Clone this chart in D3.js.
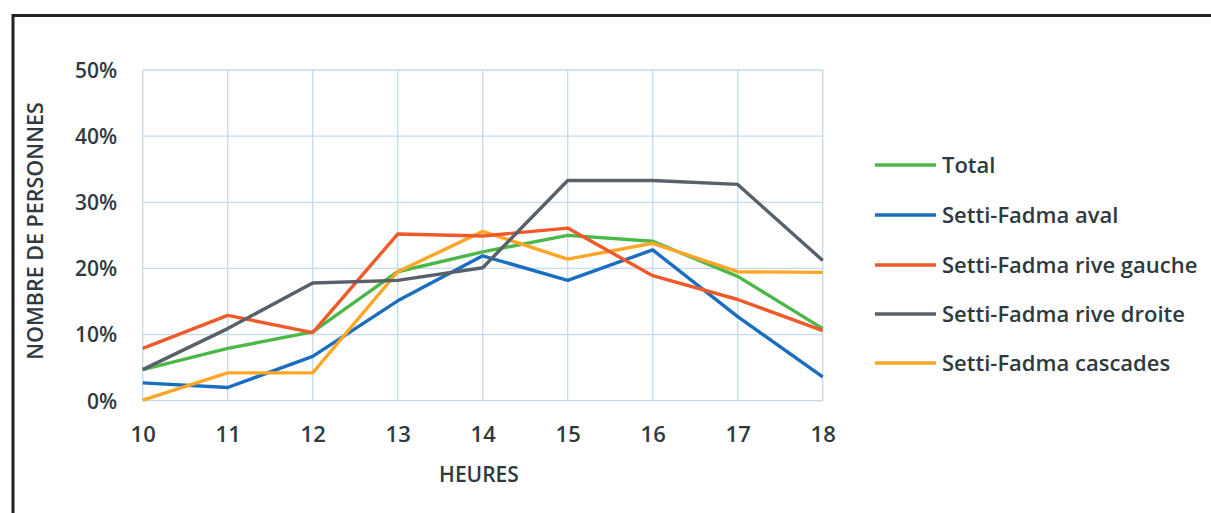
<!DOCTYPE html>
<html><head><meta charset="utf-8">
<script src="https://cdn.jsdelivr.net/npm/d3@7"></script>
<style>
html,body{margin:0;padding:0;background:#fff;}
svg{display:block;font-family:"Open Sans",Lato,sans-serif;}
svg text{font-family:"Open Sans",Lato,sans-serif;}
</style></head>
<body><svg id="c" width="1211" height="513"></svg>
<script>
const hours = [10, 11, 12, 13, 14, 15, 16, 17, 18];
const yTicks = [0, 10, 20, 30, 40, 50];
const seriesNames = ["Total", "Setti-Fadma aval", "Setti-Fadma rive gauche", "Setti-Fadma rive droite", "Setti-Fadma cascades"];
const seriesColors = ["#4cb848", "#1a6ec2", "#ef5a2b", "#58606a", "#ffa627"];
const total      = [4.7, 7.9, 10.4, 19.5, 22.5, 25.0, 24.1, 18.8, 10.9];
const aval       = [2.7, 2.0, 6.7, 15.1, 21.9, 18.2, 22.8, 12.7, 3.6];
const riveGauche = [7.9, 12.9, 10.3, 25.2, 24.9, 26.1, 18.9, 15.3, 10.6];
const riveDroite = [4.7, 10.9, 17.8, 18.2, 20.1, 33.3, 33.3, 32.7, 21.2];
const cascades   = [0.1, 4.2, 4.2, 19.5, 25.6, 21.4, 23.8, 19.5, 19.4];
const seriesValues = [total, aval, riveGauche, riveDroite, cascades];

const svg = d3.select("#c");
// frame
svg.append("path").attr("d","M13,1000V15.5H1211").attr("fill","none").attr("stroke","#222").attr("stroke-width",3);

const x = d3.scaleLinear().domain([10,18]).range([142.7,822.7]);
const y = d3.scaleLinear().domain([0,50]).range([400.7,70]);
const txt = "#2f3a40";

const g = svg.append("g");
// grid
g.selectAll(".vg").data(hours).join("line")
  .attr("x1",d=>x(d)).attr("x2",d=>x(d)).attr("y1",y(50)).attr("y2",y(0))
  .attr("stroke","#c3daee").attr("stroke-width",1.3);
g.selectAll(".hg").data(yTicks).join("line")
  .attr("x1",x(10)).attr("x2",x(18)).attr("y1",d=>y(d)).attr("y2",d=>y(d))
  .attr("stroke","#c3daee").attr("stroke-width",1.3);

// axes
const yAxis = d3.axisLeft(y).tickValues(yTicks).tickFormat(d=>d+"%").tickSize(0).tickPadding(25.5);
const ya = svg.append("g").attr("transform",`translate(${x(10)},0)`).call(yAxis);
ya.attr("font-family",null).attr("font-size",null);
ya.select(".domain").remove();
ya.selectAll("text").attr("fill",txt).style("font-size","21px").style("font-weight","600").attr("dy","0.35em");

const xAxis = d3.axisBottom(x).tickValues(hours).tickFormat(d3.format("d")).tickSize(0).tickPadding(41.5);
const xa = svg.append("g").attr("transform",`translate(0,${y(0)})`).call(xAxis);
xa.attr("font-family",null).attr("font-size",null);
xa.select(".domain").remove();
xa.selectAll("text").attr("fill",txt).style("font-size","22px").style("font-weight","600").attr("dy","0");

svg.append("text").attr("x",479).attr("y",482).attr("text-anchor","middle")
  .attr("fill",txt).style("font-size","21px").style("font-weight","600").text("HEURES");
svg.append("text").attr("transform","translate(43,231) rotate(-90)").attr("text-anchor","middle")
  .attr("fill",txt).style("font-size","21.5px").style("font-weight","600").text("NOMBRE DE PERSONNES");

// lines
const line = d3.line().x((d,i)=>x(hours[i])).y(d=>y(d));
const order = [1,0,4,2,3];
order.forEach(k=>{
  svg.append("path").datum(seriesValues[k]).attr("d",line)
    .attr("fill","none").attr("stroke",seriesColors[k]).attr("stroke-width",3.4)
    .attr("stroke-linejoin","round");
});

// legend
const legY = [165,215,265,314,363];
seriesNames.forEach((n,i)=>{
  svg.append("line").attr("x1",875).attr("x2",936).attr("y1",legY[i]).attr("y2",legY[i])
    .attr("stroke",seriesColors[i]).attr("stroke-width",3.4);
  svg.append("text").attr("x",942).attr("y",legY[i]).attr("dy","0.36em")
    .attr("fill",txt).style("font-size","22px").style("font-weight","600").text(n);
});
</script></body></html>
